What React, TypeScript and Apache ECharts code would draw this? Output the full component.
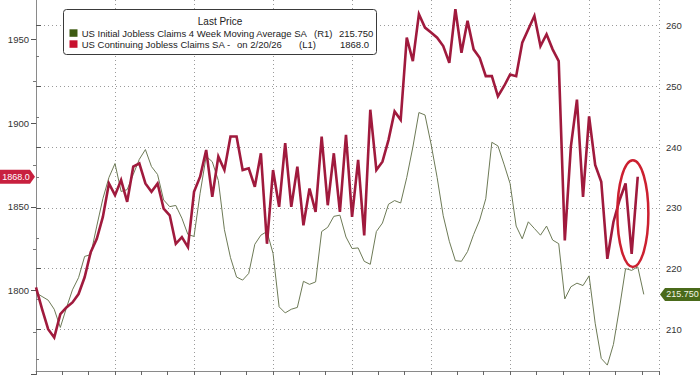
import React, { useEffect, useRef } from "react";
import * as echarts from "echarts";

// Weekly data, week 0 = start of chart (quarterly grid every 13 weeks)
const continuingClaims = [
  1802, 1789, 1777, 1772, 1786, 1790, 1793, 1798, 1808, 1823,
  1831, 1844, 1864, 1857, 1866, 1853, 1874, 1876, 1864, 1859,
  1864, 1849, 1845, 1828, 1832, 1826, 1859, 1868, 1884, 1856,
  1880, 1872, 1892, 1892, 1872, 1873, 1862, 1882, 1828, 1872,
  1850, 1888, 1850, 1874, 1839, 1861, 1847, 1892, 1851, 1882,
  1847, 1893, 1844, 1878, 1833, 1908, 1872, 1877, 1890, 1907,
  1902, 1951, 1937, 1965, 1957, 1954, 1951, 1946, 1936, 1968,
  1942, 1961, 1944, 1939, 1928, 1928, 1916, 1922, 1929, 1928,
  1948, 1956, 1964, 1946, 1953, 1944, 1937, 1830, 1886, 1914,
  1856, 1904, 1875, 1865, 1819, 1841, 1854, 1864, 1822, 1868.0,
];

const initialClaims4wma = [
  216.0, 215.4, 214.8, 213.3, 210.3, 213.5, 216.5, 218.5, 222.0, 222.3,
  227.0, 231.5, 235.0, 237.3, 232.7, 233.0, 235.5, 238.0, 239.6, 236.8,
  235.5, 231.3, 230.2, 230.4, 228.3, 225.6, 225.3, 232.4, 238.5, 237.6,
  234.5, 226.4, 221.8, 218.6, 218.1, 219.2, 224.0, 225.5, 226.1, 222.5,
  213.7, 212.7, 213.3, 213.6, 217.9, 217.4, 217.8, 226.1, 226.8, 228.6,
  228.8, 225.2, 223.3, 223.4, 221.2, 220.7, 226.1, 227.5, 230.6, 231.2,
  230.8, 235.0, 240.0, 245.7, 245.3, 240.5, 235.0, 228.7, 224.5, 221.3,
  221.2, 222.8, 225.6, 228.0, 231.5, 240.8, 240.2, 237.2, 234.0, 227.0,
  224.9, 227.7, 226.6, 225.5, 227.0, 224.7, 224.1, 215.0, 217.0, 217.6,
  217.2, 218.8, 211.0, 205.2, 204.1, 207.5, 213.5, 220.0, 219.7, 220.3,
  215.75,
];

const legendTitle = "Last Price";
const greenName = "US Initial Jobless Claims 4 Week Moving Average SA";
const greenTag = "(R1)";
const redName = "US Continuing Jobless Claims SA -";
const redDate = "on 2/20/26";
const redTag = "(L1)";

// annotation anchor (week, left-axis value)
const circleAnchor = [98.2, 1846];

const FONT = "'Liberation Sans', Arial, sans-serif";
const RED_LINE = "#a01a3d";
const GREEN_LINE = "#6d7a56";

export default function App() {
  const ref = useRef<HTMLDivElement>(null);

  useEffect(() => {
    const chart = echarts.init(ref.current!, null, { renderer: "svg" });
    const redData = continuingClaims.map((v, i) => [i, v]);
    const greenData = initialClaims4wma.map((v, i) => [i, v]);
    const dotted = { color: "#9a9a9a", type: [1, 3] as any, width: 1 };
    const plain = (v: number) => String(v);

    chart.setOption({
      animation: false,
      backgroundColor: "#ffffff",
      textStyle: { fontFamily: FONT },
      grid: [
        { left: 36, right: 41, top: -44.5, bottom: 0.5, outerBoundsMode: "none", containLabel: false },
        { left: 36, right: 41, top: -35, bottom: -15, outerBoundsMode: "none", containLabel: false },
        { left: 36, right: 41, top: 0, bottom: 4, outerBoundsMode: "none", containLabel: false },
      ],
      xAxis: [
        { gridIndex: 0, type: "value", min: 0, max: 102.5, show: false },
        { gridIndex: 1, type: "value", min: 0, max: 102.5, show: false },
        {
          gridIndex: 2,
          type: "value",
          min: 0,
          max: 102.5,
          interval: 13,
          axisLine: { show: true, lineStyle: { color: "#8a8a8a" } },
          axisTick: { show: true, length: 4, lineStyle: { color: "#666" } },
          minorTick: { show: true, splitNumber: 3, length: 4, lineStyle: { color: "#666" } },
          axisLabel: { show: false },
          splitLine: { show: true, lineStyle: dotted },
        },
      ],
      yAxis: [
        {
          gridIndex: 0,
          type: "value",
          position: "left",
          min: 1750,
          max: 2000,
          interval: 50,
          axisLine: { show: true, lineStyle: { color: "#8a8a8a" } },
          axisTick: { show: true, length: 5, lineStyle: { color: "#555" } },
          minorTick: { show: true, splitNumber: 2, length: 3, lineStyle: { color: "#777" } },
          axisLabel: { fontSize: 9.5, color: "#333", margin: 7, showMinLabel: false, showMaxLabel: false, formatter: plain },
          splitLine: { show: false },
        },
        {
          gridIndex: 1,
          type: "value",
          position: "right",
          min: 200,
          max: 270,
          interval: 10,
          axisLine: { show: true, lineStyle: { color: "#8a8a8a" } },
          axisTick: { show: true, length: 5, lineStyle: { color: "#555" } },
          minorTick: { show: true, splitNumber: 2, length: 3, lineStyle: { color: "#777" } },
          axisLabel: { fontSize: 9.5, color: "#333", margin: 7, showMinLabel: false, showMaxLabel: false, formatter: plain },
          splitLine: { show: true, lineStyle: dotted },
        },
        { gridIndex: 2, type: "value", min: 0, max: 1, show: false },
      ],
      series: [
        {
          type: "line",
          name: greenName,
          xAxisIndex: 1,
          yAxisIndex: 1,
          data: greenData,
          symbol: "none",
          lineStyle: { color: GREEN_LINE, width: 1 },
          z: 2,
        },
        {
          type: "line",
          name: redName,
          xAxisIndex: 0,
          yAxisIndex: 0,
          data: redData,
          symbol: "none",
          lineStyle: { color: RED_LINE, width: 2.6, join: "miter" },
          z: 3,
        },
      ],
    });

    const lastRed = continuingClaims[continuingClaims.length - 1];
    const lastGreen = initialClaims4wma[initialClaims4wma.length - 1];
    const yR = chart.convertToPixel({ yAxisIndex: 0 }, lastRed) as number;
    const yG = chart.convertToPixel({ yAxisIndex: 1 }, lastGreen) as number;
    const [ex, ey] = chart.convertToPixel({ xAxisIndex: 0, yAxisIndex: 0 }, circleAnchor) as number[];

    const txt = (x: number, y: number, text: string, extra: any = {}, z = 21) => ({
      type: "text",
      x,
      y,
      z,
      style: {
        text,
        fontSize: 9.5,
        fontFamily: FONT,
        fill: "#222",
        align: "left",
        verticalAlign: "middle",
        ...extra,
      },
    });

    chart.setOption({
      graphic: [
        {
          type: "rect",
          z: 20,
          shape: { x: 63.5, y: 9.5, width: 313, height: 45, r: 3 },
          style: { fill: "#ffffff", stroke: "#3a3a3a", lineWidth: 1 },
        },
        txt(220, 21.5, legendTitle, { align: "center", fontSize: 10 }),
        { type: "rect", z: 21, shape: { x: 69.5, y: 29.3, width: 8, height: 7.5 }, style: { fill: "#3e5b12" } },
        txt(81.7, 33.3, greenName),
        txt(314, 33.3, greenTag),
        txt(339, 33.3, lastGreen.toFixed(3)),
        { type: "rect", z: 21, shape: { x: 69.5, y: 40.3, width: 8, height: 7.5 }, style: { fill: "#c8102e" } },
        txt(81.7, 44.2, redName),
        txt(237, 44.2, redDate),
        txt(299, 44.2, redTag),
        txt(340, 44.2, lastRed.toFixed(1)),
        {
          type: "polygon",
          z: 22,
          shape: { points: [[0, yR - 7], [30, yR - 7], [35, yR], [30, yR + 7], [0, yR + 7]] },
          style: { fill: "#c8203f" },
        },
        txt(16, yR, lastRed.toFixed(1), { align: "center", fill: "#ffffff", fontSize: 9 }, 23),
        {
          type: "polygon",
          z: 22,
          shape: { points: [[660, yG], [665, yG - 6.5], [700, yG - 6.5], [700, yG + 6.5], [665, yG + 6.5]] },
          style: { fill: "#4a6a1a" },
        },
        txt(682.5, yG, lastGreen.toFixed(3), { align: "center", fill: "#f2f5e6", fontSize: 9 }, 23),
        {
          type: "ellipse",
          z: 15,
          shape: { cx: ex, cy: ey, rx: 15.5, ry: 53.3 },
          style: { fill: "none", stroke: "#cc2030", lineWidth: 2.5 },
        },
      ],
    });

    return () => chart.dispose();
  }, []);

  return (
    <div
      ref={ref}
      style={{ position: "fixed", left: 0, top: 0, width: 700, height: 375, background: "#fff" }}
    />
  );
}
